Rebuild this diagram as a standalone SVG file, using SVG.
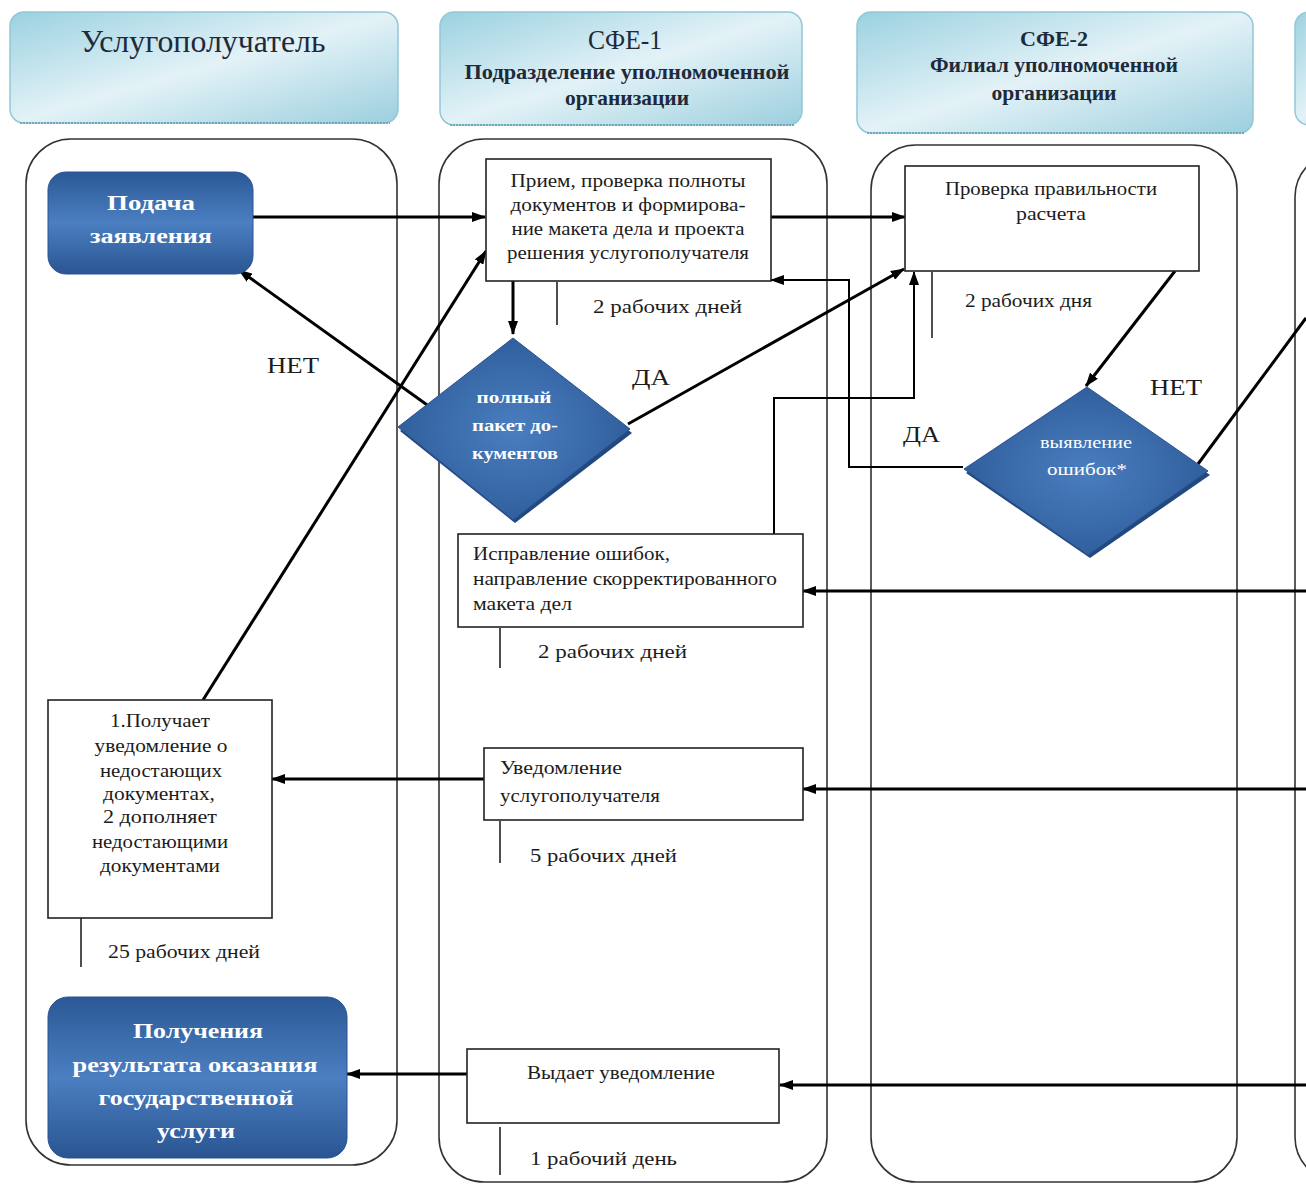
<svg xmlns="http://www.w3.org/2000/svg" width="1306" height="1184" viewBox="0 0 1306 1184">
<defs>
<linearGradient id="hg" x1="0" y1="0" x2="1" y2="1">
<stop offset="0" stop-color="#9bd1e0"/>
<stop offset="0.5" stop-color="#e3f2f7"/>
<stop offset="1" stop-color="#9ccfde"/>
</linearGradient>
<linearGradient id="bg" x1="0" y1="0" x2="0" y2="1">
<stop offset="0" stop-color="#2b5896"/>
<stop offset="0.5" stop-color="#4b7fc1"/>
<stop offset="1" stop-color="#2a5592"/>
</linearGradient>
<radialGradient id="dg" cx="0.5" cy="0.5" r="0.6">
<stop offset="0" stop-color="#4a7ec0"/>
<stop offset="1" stop-color="#2c5996"/>
</radialGradient>
<marker id="ah" markerWidth="14" markerHeight="10" refX="13" refY="5" orient="auto" markerUnits="userSpaceOnUse">
<path d="M0,0 L14,5 L0,10 Z" fill="#000"/>
</marker>
<style>
.hdr{fill:url(#hg);stroke:#93c8d7;stroke-width:1.5}
.hb{stroke:#6fa8b8;stroke-width:2;stroke-dasharray:2 1}
.lane{fill:none;stroke:#333;stroke-width:1.6}
.box{fill:#fff;stroke:#222;stroke-width:1.6}
.bl{fill:url(#bg);stroke:#2a5290;stroke-width:1}
.dia{fill:url(#dg);stroke:#2a5290;stroke-width:1}
.dsh{fill:#22497f}
.t{font-family:"Liberation Serif","Times New Roman",serif;fill:#1c1c1c}
.h{fill:#1e2a3a}
.w{fill:#fff;font-weight:bold}
.wl{fill:#fff}
.c{fill:none;stroke:#000;stroke-width:3}
.cn{fill:none;stroke:#000;stroke-width:2}
.tick{fill:none;stroke:#222;stroke-width:1.6}
</style>
</defs>
<rect width="1306" height="1184" fill="#fff"/>

<g id="headers">
<g id="h1"><rect class="hdr" x="10" y="12" width="388" height="111" rx="14"/><line class="hb" x1="20" y1="123" x2="390" y2="123"/>
<text class="t h" x="203" y="52" font-size="32" text-anchor="middle" textLength="245" lengthAdjust="spacingAndGlyphs">Услугополучатель</text></g>
<g id="h2"><rect class="hdr" x="440" y="12" width="362" height="113" rx="14"/><line class="hb" x1="450" y1="125" x2="795" y2="125"/>
<text class="t h" x="625" y="49" font-size="28" text-anchor="middle" textLength="74" lengthAdjust="spacingAndGlyphs">СФЕ-1</text>
<text class="t h" x="627" y="79" font-size="21" font-weight="bold" text-anchor="middle" textLength="325" lengthAdjust="spacingAndGlyphs">Подразделение уполномоченной</text>
<text class="t h" x="627" y="105" font-size="21" font-weight="bold" text-anchor="middle" textLength="124" lengthAdjust="spacingAndGlyphs">организации</text></g>
<g id="h3"><rect class="hdr" x="857" y="12" width="396" height="121" rx="14"/><line class="hb" x1="867" y1="133" x2="1245" y2="133"/>
<text class="t h" x="1054" y="46" font-size="22" font-weight="bold" text-anchor="middle" textLength="68" lengthAdjust="spacingAndGlyphs">СФЕ-2</text>
<text class="t h" x="1054" y="72" font-size="20" font-weight="bold" text-anchor="middle" textLength="248" lengthAdjust="spacingAndGlyphs">Филиал уполномоченной</text>
<text class="t h" x="1054" y="100" font-size="20" font-weight="bold" text-anchor="middle" textLength="125" lengthAdjust="spacingAndGlyphs">организации</text></g>
<g id="h4"><rect class="hdr" x="1295" y="12" width="100" height="113" rx="14"/></g>
</g>

<g id="lanes">
<rect class="lane" x="26" y="139" width="371" height="1026" rx="45"/>
<rect class="lane" x="439" y="139" width="388" height="1043" rx="45"/>
<rect class="lane" x="871" y="145" width="366" height="1037" rx="45"/>
<rect class="lane" x="1295" y="152" width="100" height="1030" rx="45"/>
</g>

<g id="connectors">
<path class="c" d="M252,217 H485" marker-end="url(#ah)"/>
<path class="c" d="M771,217 H905" marker-end="url(#ah)"/>
<path class="c" d="M513,281 V334" marker-end="url(#ah)"/>
<path class="c" d="M430,407 L239,270" marker-end="url(#ah)"/>
<path class="c" d="M203,700 L486,251" marker-end="url(#ah)"/>
<path class="c" d="M628,424 L904,269" marker-end="url(#ah)"/>
<path class="c" d="M1175,271 L1086,386" marker-end="url(#ah)"/>
<path class="cn" d="M963,467 H849 V280 H771" marker-end="url(#ah)"/>
<path class="cn" d="M774,534 V398 H914 V272" marker-end="url(#ah)"/>
<path class="c" d="M1198,464 L1306,318"/>
<path class="c" d="M1306,591 H803" marker-end="url(#ah)"/>
<path class="c" d="M1306,789 H803" marker-end="url(#ah)"/>
<path class="c" d="M484,779 H272" marker-end="url(#ah)"/>
<path class="c" d="M1306,1085 H780" marker-end="url(#ah)"/>
<path class="c" d="M467,1074 H347" marker-end="url(#ah)"/>
</g>

<g id="ticks">
<path class="tick" d="M557,282 V325"/>
<path class="tick" d="M932,272 V338"/>
<path class="tick" d="M500,628 V668"/>
<path class="tick" d="M500,821 V863"/>
<path class="tick" d="M81,918 V967"/>
<path class="tick" d="M500,1127 V1175"/>
</g>

<g id="n_podacha">
<rect class="bl" x="48" y="172" width="205" height="102" rx="18"/>
<text class="t w" x="151" y="210" font-size="20" text-anchor="middle" textLength="88" lengthAdjust="spacingAndGlyphs">Подача</text>
<text class="t w" x="151" y="243" font-size="20" text-anchor="middle" textLength="122" lengthAdjust="spacingAndGlyphs">заявления</text>
</g>

<g id="n_priem">
<rect class="box" x="486" y="159" width="285" height="122"/>
<text class="t" x="628" y="187" font-size="19" text-anchor="middle" textLength="235" lengthAdjust="spacingAndGlyphs">Прием, проверка полноты</text>
<text class="t" x="628" y="211" font-size="19" text-anchor="middle" textLength="235" lengthAdjust="spacingAndGlyphs">документов и формирова-</text>
<text class="t" x="628" y="235" font-size="19" text-anchor="middle" textLength="233" lengthAdjust="spacingAndGlyphs">ние макета дела и проекта</text>
<text class="t" x="628" y="259" font-size="19" text-anchor="middle" textLength="242" lengthAdjust="spacingAndGlyphs">решения услугополучателя</text>
</g>

<g id="n_polny">
<polygon class="dsh" points="515,342 632,433 515,523 400,431"/>
<polygon class="dia" points="513,338 630,429 513,520 398,427"/>
<text class="t w" x="514" y="403" font-size="17" text-anchor="middle" textLength="75" lengthAdjust="spacingAndGlyphs">полный</text>
<text class="t w" x="515" y="431" font-size="17" text-anchor="middle" textLength="86" lengthAdjust="spacingAndGlyphs">пакет до-</text>
<text class="t w" x="515" y="459" font-size="17" text-anchor="middle" textLength="86" lengthAdjust="spacingAndGlyphs">кументов</text>
</g>

<g id="n_proverka">
<rect class="box" x="905" y="166" width="294" height="105"/>
<text class="t" x="1051" y="195" font-size="19" text-anchor="middle" textLength="212" lengthAdjust="spacingAndGlyphs">Проверка правильности</text>
<text class="t" x="1051" y="220" font-size="19" text-anchor="middle" textLength="70" lengthAdjust="spacingAndGlyphs">расчета</text>
</g>

<g id="n_vyyavlenie">
<polygon class="dsh" points="1089,391 1210,475 1090,558 966,473"/>
<polygon class="dia" points="1087,387 1208,471 1088,555 964,469"/>
<text class="t wl" x="1086" y="448" font-size="16" text-anchor="middle" textLength="92" lengthAdjust="spacingAndGlyphs">выявление</text>
<text class="t wl" x="1087" y="475" font-size="16" text-anchor="middle" textLength="80" lengthAdjust="spacingAndGlyphs">ошибок*</text>
</g>

<g id="n_ispravlenie">
<rect class="box" x="458" y="534" width="345" height="93"/>
<text class="t" x="473" y="560" font-size="19" textLength="197" lengthAdjust="spacingAndGlyphs">Исправление ошибок,</text>
<text class="t" x="473" y="585" font-size="19" textLength="304" lengthAdjust="spacingAndGlyphs">направление скорректированного</text>
<text class="t" x="473" y="610" font-size="19" textLength="99" lengthAdjust="spacingAndGlyphs">макета дел</text>
</g>

<g id="n_uvedomlenie">
<rect class="box" x="484" y="748" width="319" height="72"/>
<text class="t" x="500" y="774" font-size="19" textLength="122" lengthAdjust="spacingAndGlyphs">Уведомление</text>
<text class="t" x="500" y="802" font-size="19" textLength="160" lengthAdjust="spacingAndGlyphs">услугополучателя</text>
</g>

<g id="n_poluchaet">
<rect class="box" x="48" y="700" width="224" height="218"/>
<text class="t" x="160" y="727" font-size="19" text-anchor="middle" textLength="100" lengthAdjust="spacingAndGlyphs">1.Получает</text>
<text class="t" x="161" y="752" font-size="19" text-anchor="middle" textLength="133" lengthAdjust="spacingAndGlyphs">уведомление о</text>
<text class="t" x="161" y="777" font-size="19" text-anchor="middle" textLength="122" lengthAdjust="spacingAndGlyphs">недостающих</text>
<text class="t" x="159" y="800" font-size="19" text-anchor="middle" textLength="112" lengthAdjust="spacingAndGlyphs">документах,</text>
<text class="t" x="160" y="823" font-size="19" text-anchor="middle" textLength="114" lengthAdjust="spacingAndGlyphs">2 дополняет</text>
<text class="t" x="160" y="848" font-size="19" text-anchor="middle" textLength="136" lengthAdjust="spacingAndGlyphs">недостающими</text>
<text class="t" x="160" y="872" font-size="19" text-anchor="middle" textLength="120" lengthAdjust="spacingAndGlyphs">документами</text>
</g>

<g id="n_poluchenie">
<rect class="bl" x="48" y="997" width="299" height="161" rx="20"/>
<text class="t w" x="198" y="1038" font-size="21" text-anchor="middle" textLength="130" lengthAdjust="spacingAndGlyphs">Получения</text>
<text class="t w" x="195" y="1072" font-size="21" text-anchor="middle" textLength="245" lengthAdjust="spacingAndGlyphs">результата оказания</text>
<text class="t w" x="196" y="1105" font-size="21" text-anchor="middle" textLength="195" lengthAdjust="spacingAndGlyphs">государственной</text>
<text class="t w" x="196" y="1138" font-size="21" text-anchor="middle" textLength="78" lengthAdjust="spacingAndGlyphs">услуги</text>
</g>

<g id="n_vydaet">
<rect class="box" x="467" y="1049" width="312" height="74"/>
<text class="t" x="621" y="1079" font-size="19" text-anchor="middle" textLength="188" lengthAdjust="spacingAndGlyphs">Выдает уведомление</text>
</g>

<g id="labels">
<text class="t" x="593" y="313" font-size="19" textLength="149" lengthAdjust="spacingAndGlyphs">2 рабочих дней</text>
<text class="t" x="965" y="307" font-size="19" textLength="127" lengthAdjust="spacingAndGlyphs">2 рабочих дня</text>
<text class="t" x="538" y="658" font-size="19" textLength="149" lengthAdjust="spacingAndGlyphs">2 рабочих дней</text>
<text class="t" x="530" y="862" font-size="19" textLength="147" lengthAdjust="spacingAndGlyphs">5 рабочих дней</text>
<text class="t" x="108" y="958" font-size="19" textLength="152" lengthAdjust="spacingAndGlyphs">25 рабочих дней</text>
<text class="t" x="530" y="1165" font-size="19" textLength="147" lengthAdjust="spacingAndGlyphs">1 рабочий день</text>
<text class="t" x="267" y="373" font-size="23" textLength="52" lengthAdjust="spacingAndGlyphs">НЕТ</text>
<text class="t" x="632" y="385" font-size="23" textLength="38" lengthAdjust="spacingAndGlyphs">ДА</text>
<text class="t" x="903" y="442" font-size="23" textLength="37" lengthAdjust="spacingAndGlyphs">ДА</text>
<text class="t" x="1150" y="395" font-size="23" textLength="52" lengthAdjust="spacingAndGlyphs">НЕТ</text>
</g>
</svg>
